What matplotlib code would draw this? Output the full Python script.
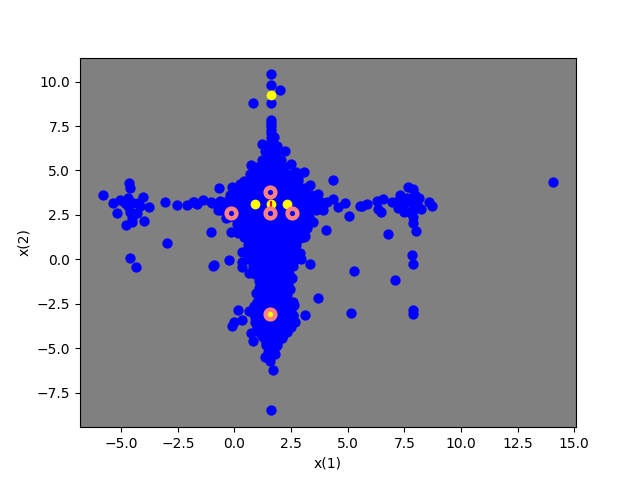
import matplotlib
matplotlib.use("Agg")
import matplotlib.pyplot as plt

# Outlying and edge samples
edge_x = [1.62,1.63,2.02,0.83,1.61,1.62,1.62,1.62,1.74,1.21,1.89,2.22,1.62,1.62,0.74,3.08,1.24,2.48,4.36,3.35,-0.67,-0.12,0.24,0.68,3.7,4.36,4.88,4.57,5.07,5.54,4.04,3.45,3.19,3.11,-1.02,-0.17,0.14,0.42,-1.82,-1.67,-1.38,-1.0,-0.71,-0.64,-0.38,
 -5.79,-5.35,-4.64,-4.61,-4.03,-3.76,-5.17,-4.8,-4.54,-3.98,-5.05,-4.83,-4.68,-4.68,-4.47,-4.6,-4.32,-4.54,-4.25,-4.17,-3.05,-2.54,-2.11,-1.79,-1.04,-3.0,-4.6,-4.33,-0.94,
 14.08,5.64,5.84,6.3,6.54,6.32,6.45,6.79,5.29,7.1,5.16,7.85,7.89,7.89,7.89,8.03,7.87,7.89,7.66,7.89,7.32,7.97,8.16,8.6,8.71,8.22,6.94,7.23,7.23,7.48,7.75,7.53,7.82,7.82,7.6,8.04,7.89,7.38,
 1.62,1.71,1.57,1.35,1.79,0.83,0.74,2.13,1.89,1.64,1.64,-0.12,-0.02,0.34,0.14,0.63,0.9,2.68,3.13,2.61,3.7,2.6,2.45,0.94,2.53,1.16,0.65,3.35,-0.23,-0.89,0.34,0.34,0.34,2.89,2.94,2.6,3.08]
edge_y = [10.43,9.79,9.53,8.8,8.8,7.86,7.48,7.11,6.88,6.51,6.4,6.11,6.6,6.07,5.3,4.91,5.43,5.38,4.46,4.18,4.03,4.07,4.24,4.48,3.69,3.39,3.16,2.94,2.45,3.01,1.64,2.1,1.76,1.34,1.53,1.55,1.47,1.28,3.2,3.11,3.35,3.16,2.79,3.26,2.32,
 3.62,3.16,4.29,4.01,3.5,2.94,2.6,1.94,2.13,2.17,3.35,3.16,3.45,2.98,3.16,2.69,2.6,2.32,3.16,2.98,3.22,3.07,3.07,3.2,3.2,0.91,0.08,-0.44,-0.35,
 4.35,3.0,3.11,3.26,3.41,2.83,2.69,1.42,-0.67,-1.17,-3.03,0.25,-0.24,-2.85,-3.09,1.59,2.04,2.41,4.07,3.97,3.63,3.63,3.45,3.22,2.98,2.83,3.2,3.26,2.88,2.69,2.69,3.16,3.16,3.45,3.45,3.16,2.79,3.07,
 -8.5,-6.24,-5.72,-5.49,-5.34,-4.61,-4.16,-4.24,-4.69,-4.91,-4.54,-3.73,-3.5,-3.43,-2.86,-2.9,-3.26,-3.54,-3.14,-2.58,-2.19,-3.13,-1.68,-1.9,-1.06,-1.25,-0.78,-0.27,-0.05,-0.31,-0.16,-0.44,0.44,0.35,0.01,0.2,1.28]

# Extra samples along the vertical neck and the lower lobe
neck_x = [1.6,1.6,1.6,1.62,1.6,1.55,1.2,1.5,1.8,2.05,1.35,1.85,2.7,2.8,0.85,0.85,2.6,2.55,2.35,1.05,0.95,1.2,2.0,1.4,1.85,1.55,1.7,1.6,1.65]
neck_y = [7.65,7.3,6.85,6.3,6.0,5.75,5.6,5.6,5.6,5.6,6.1,5.95,4.9,4.6,-2.6,-3.0,-2.4,-3.5,-3.9,-3.9,-3.6,-4.3,-4.4,-4.7,-4.9,-5.2,-5.2,-4.5,-4.2]

# Dense central cluster samples
core_x = [1.0,1.3,1.6,1.9,2.2,
 0.7,1.0,1.3,1.6,1.9,2.2,2.5,
 0.4,0.7,1.0,1.3,1.6,1.9,2.2,2.5,2.8,
 0.1,0.4,0.7,1.0,1.3,1.6,1.9,2.2,2.5,2.8,3.1,
 -0.2,0.1,0.4,0.7,1.0,1.3,1.6,1.9,2.2,2.5,2.8,3.1,3.4,
 -0.4,-0.1,0.2,0.5,0.8,1.1,1.4,1.7,2.0,2.3,2.6,2.9,3.2,3.5,3.8,4.1,
 -0.6,-0.3,0.0,0.3,0.6,0.9,1.2,1.5,1.8,2.1,2.4,2.7,3.0,3.3,3.6,3.9,
 -0.3,0.0,0.3,0.6,0.9,1.2,1.5,1.8,2.1,2.4,2.7,3.0,3.3,
 0.1,0.4,0.7,1.0,1.3,1.6,1.9,2.2,2.5,2.8,3.1,
 0.3,0.6,0.9,1.2,1.5,1.8,2.1,2.4,2.7,3.0,
 0.5,0.8,1.1,1.4,1.7,2.0,2.3,2.6,2.9,
 0.6,0.9,1.2,1.5,1.8,2.1,2.4,2.7,
 0.5,0.8,1.1,1.4,1.7,2.0,2.3,2.6,
 0.6,0.9,1.2,1.5,1.8,2.1,2.4,2.7,
 0.8,1.1,1.4,1.7,2.0,2.3,2.6,
 0.9,1.2,1.5,1.8,2.1,2.4,
 1.1,1.4,1.7,2.0,2.4,
 1.1,1.4,1.7,2.0,2.3,
 1.1,1.4,1.7,2.0,2.3,
 1.0,1.3,1.6,1.9,2.2,2.4,
 1.0,1.3,1.6,1.9,2.2,2.5,
 0.9,1.2,1.5,1.8,2.1,2.4,2.6,
 0.9,1.2,1.5,1.8,2.1,2.4,2.6,
 1.0,1.3,1.6,1.9,2.2,2.5,
 1.1,1.4,1.7,2.0,2.3,
 1.3,1.6,1.9,2.1,
 1.4,1.7,1.9,
 1.5,1.7]
core_y = [5.2,5.2,5.2,5.2,5.2,
 4.8,4.8,4.8,4.8,4.8,4.8,4.8,
 4.4,4.4,4.4,4.4,4.4,4.4,4.4,4.4,4.4,
 4.0,4.0,4.0,4.0,4.0,4.0,4.0,4.0,4.0,4.0,4.0,
 3.6,3.6,3.6,3.6,3.6,3.6,3.6,3.6,3.6,3.6,3.6,3.6,3.6,
 3.2,3.2,3.2,3.2,3.2,3.2,3.2,3.2,3.2,3.2,3.2,3.2,3.2,3.2,3.2,3.2,
 2.8,2.8,2.8,2.8,2.8,2.8,2.8,2.8,2.8,2.8,2.8,2.8,2.8,2.8,2.8,2.8,
 2.4,2.4,2.4,2.4,2.4,2.4,2.4,2.4,2.4,2.4,2.4,2.4,2.4,
 2.0,2.0,2.0,2.0,2.0,2.0,2.0,2.0,2.0,2.0,2.0,
 1.6,1.6,1.6,1.6,1.6,1.6,1.6,1.6,1.6,1.6,
 1.2,1.2,1.2,1.2,1.2,1.2,1.2,1.2,1.2,
 0.8,0.8,0.8,0.8,0.8,0.8,0.8,0.8,
 0.4,0.4,0.4,0.4,0.4,0.4,0.4,0.4,
 0.0,0.0,0.0,0.0,0.0,0.0,0.0,0.0,
 -0.4,-0.4,-0.4,-0.4,-0.4,-0.4,-0.4,
 -0.8,-0.8,-0.8,-0.8,-0.8,-0.8,
 -1.2,-1.2,-1.2,-1.2,-1.2,
 -1.6,-1.6,-1.6,-1.6,-1.6,
 -2.0,-2.0,-2.0,-2.0,-2.0,
 -2.4,-2.4,-2.4,-2.4,-2.4,-2.4,
 -2.8,-2.8,-2.8,-2.8,-2.8,-2.8,
 -3.2,-3.2,-3.2,-3.2,-3.2,-3.2,-3.2,
 -3.5,-3.5,-3.5,-3.5,-3.5,-3.5,-3.5,
 -3.8,-3.8,-3.8,-3.8,-3.8,-3.8,
 -4.1,-4.1,-4.1,-4.1,-4.1,
 -4.4,-4.4,-4.4,-4.4,
 -4.8,-4.8,-4.8,
 -5.2,-5.2]

yellow_x = [1.6,0.9,1.6,2.3,1.55]
yellow_y = [9.25,3.1,3.1,3.1,-3.1]
ring_x = [1.55,1.55,-0.15,2.55,1.55]
ring_y = [3.8,2.6,2.6,2.6,-3.1]
red_x = [1.6]
red_y = [3.1]

fig, ax = plt.subplots(figsize=(6.4, 4.8), dpi=100)
ax.set_facecolor("#808080")
ax.plot(edge_x + neck_x + core_x, edge_y + neck_y + core_y, "o", color="#0000ff",
        markersize=6.4, linestyle="none")
ax.plot(yellow_x, yellow_y, "o", color="#ffff00", linestyle="none")
ax.plot(red_x, red_y, "|", color="#ff0000", markersize=5, markeredgewidth=1.5, linestyle="none")
ax.plot(ring_x, ring_y, "o", markerfacecolor="none", markeredgecolor="#ff8080",
        markersize=7.0, markeredgewidth=3.2, linestyle="none")
ax.set_xlim(-6.82, 15.08)
ax.set_ylim(-9.44, 11.35)
ax.set_xlabel("x(1)")
ax.set_ylabel("x(2)")
fig.savefig("out.png", dpi=100)
